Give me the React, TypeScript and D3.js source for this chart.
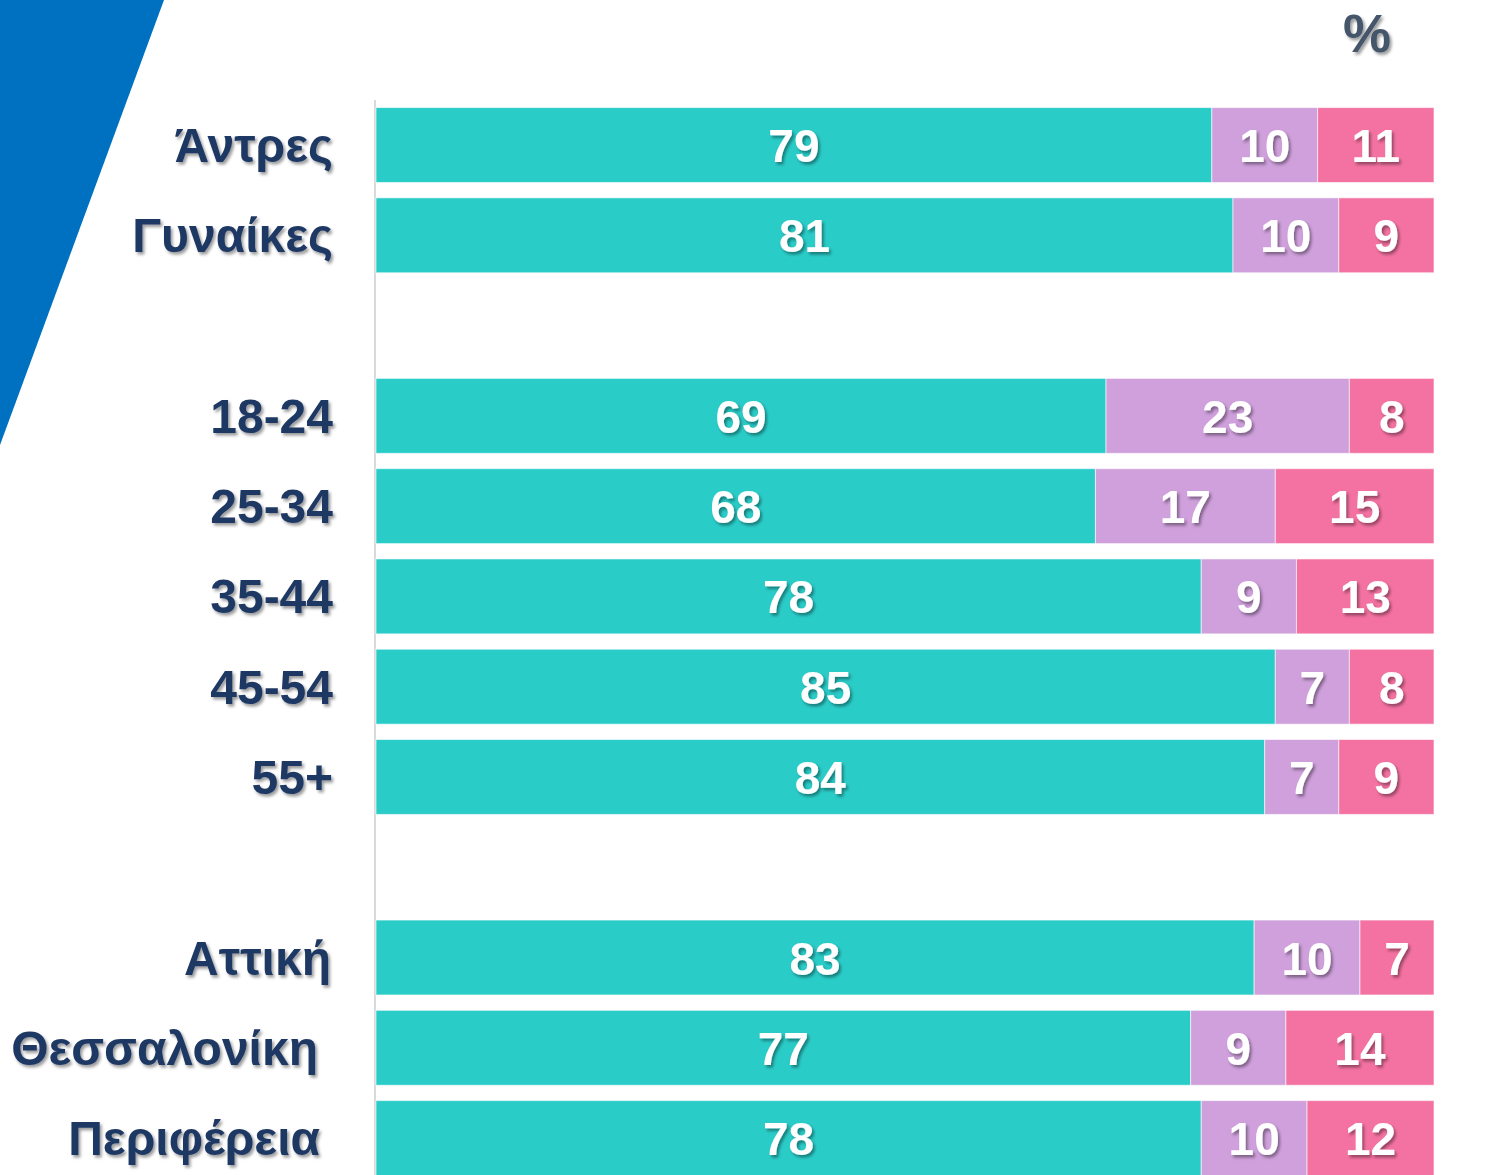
import React from "react";
import * as d3 from "d3";

const categories = ["Άντρες", "Γυναίκες", "", "18-24", "25-34", "35-44", "45-54", "55+", " ", "Αττική", "Θεσσαλονίκη", "Περιφέρεια"];
const seriesA = [79, 81, null, 69, 68, 78, 85, 84, null, 83, 77, 78];
const seriesB = [10, 10, null, 23, 17, 9, 7, 7, null, 10, 9, 10];
const seriesC = [11, 9, null, 8, 15, 13, 8, 9, null, 7, 14, 12];
const colors = ["#2ACCC8", "#CFA0DC", "#F472A1"];
const labelShift = [0, 0, 0, 0, 0, 0, 0, 0, 0, -2, -15, -13];

export default function App() {
  const W = 1486, H = 1175;
  const x = d3.scaleLinear().domain([0, 100]).range([376, 1434]);
  const y = d3.scaleBand<string>().domain(categories).range([99.9, 1183.2]).paddingInner(0.17).paddingOuter(0.085);
  const series = [seriesA, seriesB, seriesC];
  const stackData = categories.map((c, i) => ({ c, a: seriesA[i], b: seriesB[i], cc: seriesC[i] }));
  const stack = d3.stack<any>().keys(["a", "b", "cc"]).value((d, k) => d[k] ?? 0)(stackData);

  return (
    <svg width={W} height={H} style={{ display: "block", position: "absolute", left: 0, top: 0 }}>
      <defs>
        <filter id="sh" x="-20%" y="-20%" width="140%" height="140%">
          <feDropShadow dx="2" dy="2.5" stdDeviation="1.5" floodColor="#000" floodOpacity="0.4" />
        </filter>
      </defs>
      <rect x={0} y={0} width={W} height={H} fill="#fff" />
      <polygon points="0,0 164,0 0,445" fill="#0070C0" />
      <line x1={375} x2={375} y1={100} y2={H} stroke="#D9D9D9" strokeWidth={2} />
      {stack.map((s, si) =>
        s.map((d, i) =>
          series[si][i] == null ? null : (
            <rect key={`${si}-${i}`} x={x(d[0])} y={y(categories[i])} width={x(d[1]) - x(d[0])} height={y.bandwidth()}
              fill={colors[si]} stroke="#fff" strokeOpacity={0.6} strokeWidth={1} />
          )
        )
      )}
      <g fontFamily="'Liberation Sans', Arial, sans-serif" fontWeight="bold" filter="url(#sh)">
        {stack.map((s, si) =>
          s.map((d, i) =>
            series[si][i] == null ? null : (
              <text key={`t${si}-${i}`} x={(x(d[0]) + x(d[1])) / 2} y={y(categories[i])! + y.bandwidth() / 2 + 17}
                textAnchor="middle" fontSize={46} fill="#fff">{series[si][i]}</text>
            )
          )
        )}
        {categories.map((c, i) =>
          seriesA[i] == null ? null : (
            <text key={`l${i}`} x={333 + labelShift[i]} y={y(c)! + y.bandwidth() / 2 + 17} textAnchor="end"
              fontSize={48} fill="#1F3864">{c}</text>
          )
        )}
        <text x={1367} y={52} textAnchor="middle" fontSize={54} fill="#44546A">%</text>
      </g>
    </svg>
  );
}
